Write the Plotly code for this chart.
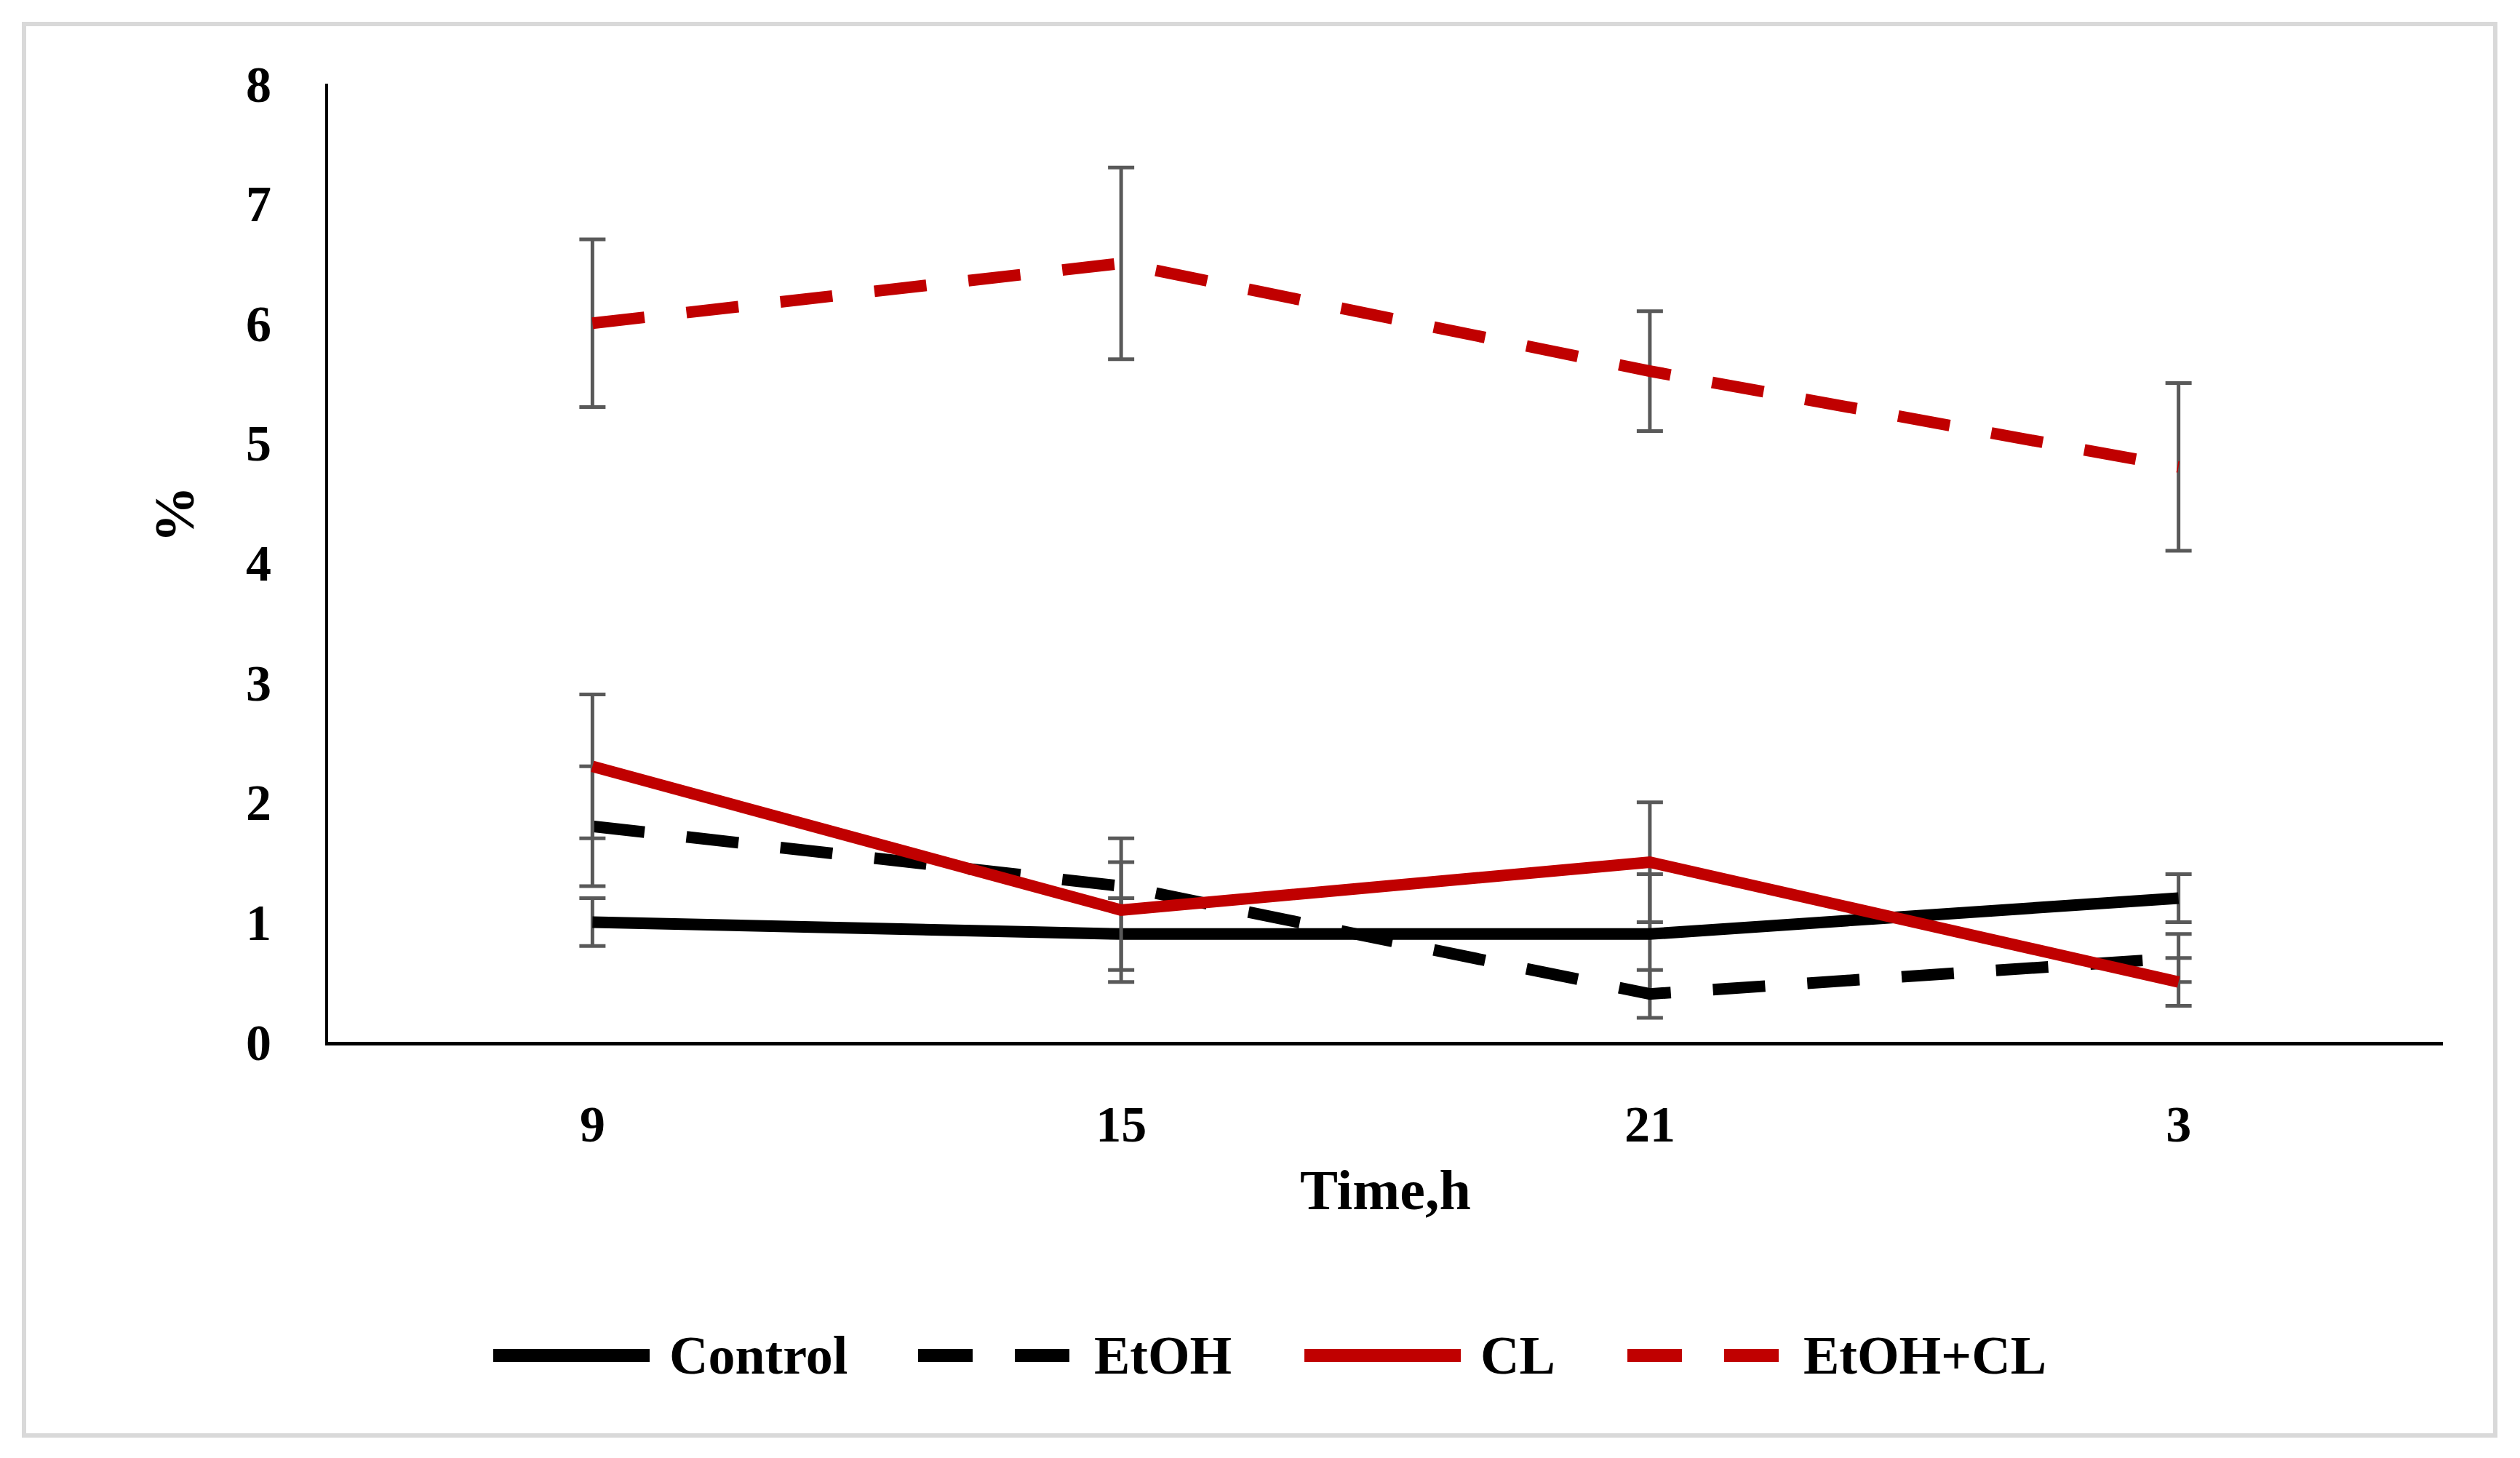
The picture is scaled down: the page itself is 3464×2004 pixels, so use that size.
import plotly.graph_objects as go

# ---------------- data ----------------
times = ["9", "15", "21", "3"]
series_names = ["Control", "EtOH", "CL", "EtOH+CL"]
control = [1.0, 0.9, 0.9, 1.2]
control_err = [0.2, 0.3, 0.5, 0.2]
etoh = [1.8, 1.3, 0.4, 0.7]
etoh_err = [0.5, 0.2, 0.2, 0.2]
cl = [2.3, 1.1, 1.5, 0.5]
cl_err = [0.6, 0.6, 0.5, 0.2]
etoh_cl = [6.0, 6.5, 5.6, 4.8]
etoh_cl_err = [0.7, 0.8, 0.5, 0.7]
y_ticks = [0, 1, 2, 3, 4, 5, 6, 7, 8]

values = [control, etoh, cl, etoh_cl]
errors = [control_err, etoh_err, cl_err, etoh_cl_err]
colors = ["#000000", "#000000", "#C00000", "#C00000"]
DASH = "72px,58px"
dashes = ["solid", DASH, "solid", DASH]

# ---------------- layout constants ----------------
OFF = 8  # page body margin
W, H = 3464 - OFF, 2004 - OFF
PL, PR, PT, PB = 451 - OFF, 3358 - OFF, 115 - OFF, 1432 - OFF
FONT = "Liberation Serif"
LW = 16


def px_x(p):
    return (p - OFF - PL) / (PR - PL)


def px_y(p):
    return (PB - (p - OFF)) / (PB - PT)


fig = go.Figure()
for name, v, e, c, d in zip(series_names, values, errors, colors, dashes):
    fig.add_trace(go.Scatter(
        x=times, y=v, name=name, mode="lines",
        line=dict(color=c, width=LW, dash=d),
        error_y=dict(type="data", array=e, visible=True,
                     color="#595959", thickness=5, width=18),
        showlegend=False,
    ))

shapes = []
annotations = []

# outer border
shapes.append(dict(type="rect", xref="paper", yref="paper",
                   x0=px_x(33), x1=px_x(3430), y0=px_y(1973), y1=px_y(33),
                   line=dict(color="#D9D9D9", width=6), layer="below"))

# custom legend
leg_x = [678, 1262, 1793, 2237]
leg_y = 1863
sample_len = 215
text_off = 240
for name, c, d, x0 in zip(series_names, colors, dashes, leg_x):
    shapes.append(dict(type="line", xref="paper", yref="paper",
                       x0=px_x(x0), x1=px_x(x0 + sample_len),
                       y0=px_y(leg_y), y1=px_y(leg_y),
                       line=dict(color=c, width=18,
                                 dash="75px,58px" if d != "solid" else "solid")))
    annotations.append(dict(xref="paper", yref="paper",
                            x=px_x(x0 + text_off), y=px_y(leg_y),
                            xanchor="left", yanchor="middle", showarrow=False,
                            text="<b>%s</b>" % name,
                            font=dict(family=FONT, size=74, color="#000000")))

# axis titles
annotations.append(dict(xref="paper", yref="paper", x=px_x(1904), y=px_y(1635),
                        xanchor="center", yanchor="middle", showarrow=False,
                        text="<b>Time,h</b>",
                        font=dict(family=FONT, size=78, color="#000000")))
annotations.append(dict(xref="paper", yref="paper", x=px_x(239), y=px_y(707),
                        xanchor="center", yanchor="middle", showarrow=False,
                        textangle=-90, text="<b>%</b>",
                        font=dict(family=FONT, size=78, color="#000000")))

fig.update_layout(
    width=W, height=H,
    margin=dict(l=PL, r=W - PR, t=PT, b=H - PB, pad=0),
    paper_bgcolor="#FFFFFF", plot_bgcolor="#FFFFFF",
    font=dict(family=FONT, color="#000000"),
    shapes=shapes, annotations=annotations,
    showlegend=False,
    xaxis=dict(type="category", range=[-0.5, 3.5], showgrid=False,
               showline=True, linecolor="#000000", linewidth=5,
               ticks="", zeroline=False, ticklabelstandoff=48,
               tickfont=dict(family=FONT, size=70, color="#000000", weight="bold")),
    yaxis=dict(range=[0, 8], tickvals=y_ticks, showgrid=False,
               showline=True, linecolor="#000000", linewidth=4,
               ticks="", zeroline=False, ticklabelstandoff=60,
               tickfont=dict(family=FONT, size=70, color="#000000", weight="bold")),
)

fig.write_html("out.html")
